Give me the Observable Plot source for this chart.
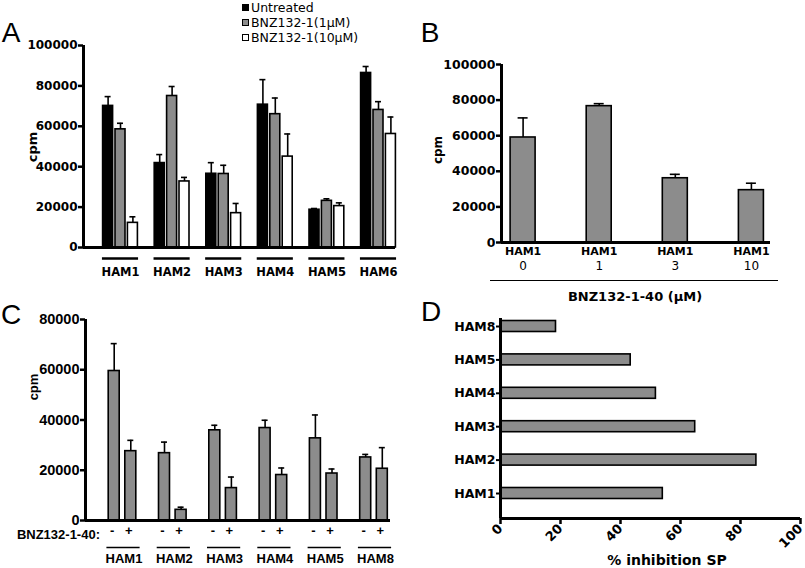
<!DOCTYPE html>
<html><head><meta charset="utf-8">
<script src="https://cdn.jsdelivr.net/npm/d3@7"></script>
<script src="https://cdn.jsdelivr.net/npm/@observablehq/plot@0.6"></script>
<style>
body{margin:0;background:#fff;}
#wrap{position:relative;width:805px;height:568px;overflow:hidden;color:#000;background:#fff;}
#wrap svg{position:absolute;left:0;top:0;}
#wrap svg g[aria-label^="y-axis"] text, #wrap svg g[aria-label^="x-axis"] text{font-weight:bold;}
.t{position:absolute;white-space:nowrap;line-height:1;}
</style></head><body><div id="wrap"></div>
<script>
// ---------- Panel A ----------
const groupsA = ["HAM1","HAM2","HAM3","HAM4","HAM5","HAM6"];
const seriesA = ["Untreated","BNZ132-1(1\u03bcM)","BNZ132-1(10\u03bcM)"];
const untreatedA    = [70100, 41800, 36500, 70700, 18700, 86400];
const untreatedErrA = [4600, 4200, 5500, 12400, 600, 3200];
const bnz1A         = [58500, 75000, 36400, 66000, 23100, 68100];
const bnz1ErrA      = [3000, 4700, 4300, 8000, 1000, 4100];
const bnz10A        = [12200, 32700, 17000, 45000, 20500, 56200];
const bnz10ErrA     = [3000, 2000, 4800, 11200, 1600, 8400];
const ticksA = [0, 20000, 40000, 60000, 80000, 100000];

// ---------- Panel B ----------
const doseLabelB = "HAM1";
const dosesB = ["0", "1", "3", "10"];
const valuesB = [59000, 76600, 36100, 29400];
const errB    = [11000, 1400, 2200, 3900];
const ticksB = [0, 20000, 40000, 60000, 80000, 100000];

// ---------- Panel C ----------
const groupsC = ["HAM1","HAM2","HAM3","HAM4","HAM5","HAM8"];
const treatC = ["-", "+"];
const minusC    = [59500, 26800, 35900, 36800, 32700, 25100];
const minusErrC = [10900, 4400, 2000, 3100, 9300, 1200];
const plusC     = [27600, 4250, 12900, 18100, 18700, 20600];
const plusErrC  = [4300, 1050, 4400, 2800, 1800, 8400];
const ticksC = [0, 20000, 40000, 60000, 80000];

// ---------- Panel D ----------
const namesD = ["HAM1","HAM2","HAM3","HAM4","HAM5","HAM8"];
const inhibD = [54.1, 85.3, 64.9, 51.8, 43.4, 18.5];
const ticksD = [0, 20, 40, 60, 80, 100];

const GRAY = "#8c8c8c";
const FW = '"DejaVu Sans", sans-serif';
const FA = '"Liberation Sans", Arial, sans-serif';
const wrap = document.getElementById("wrap");
const base = {background: "transparent", overflow: "visible", color: "#000"};
function mount(svg) { wrap.appendChild(svg); }
function txt(s, x, y, css, anchor = "c") {
  const d = document.createElement("div");
  d.className = "t";
  d.textContent = s;
  d.style.left = x + "px"; d.style.top = y + "px";
  let tr = anchor === "c" ? "translate(-50%,-50%)" : anchor === "l" ? "translate(0,-50%)" : "translate(-100%,-50%)";
  if (css.rot) tr += " rotate(-90deg)";
  d.style.transform = tr;
  d.style.fontFamily = css.font || FW;
  d.style.fontSize = css.size + "px";
  d.style.fontWeight = css.bold ? "bold" : "normal";
  wrap.appendChild(d);
  return d;
}

// ===== Panel A plot =====
{
  const STEP = 51.6, C0 = 120;
  const OFF = 12.4 / STEP, HW = 5 / STEP, CAP = 3 / STEP;
  const vals = [untreatedA, bnz1A, bnz10A], errs = [untreatedErrA, bnz1ErrA, bnz10ErrA];
  const fills = ["#000", GRAY, "#fff"];
  const rows = vals.flatMap((vs, s) => vs.map((v, g) => ({g, s, v, e: errs[s][g], c: g + (s - 1) * OFF})));
  const xd = [(83 - C0) / STEP, (395 - C0) / STEP];
  mount(Plot.plot({
    width: 805, height: 568, marginLeft: 83, marginRight: 410, marginTop: 45, marginBottom: 321,
    style: {...base, fontFamily: FW},
    x: {domain: xd, axis: null},
    y: {domain: [0, 100000], axis: null},
    marks: [
      Plot.ruleX(rows, {x: "c", y1: "v", y2: d => d.v + d.e, strokeWidth: 1.6}),
      Plot.ruleY(rows, {y: d => d.v + d.e, x1: d => d.c - CAP, x2: d => d.c + CAP, strokeWidth: 1.6}),
      ...fills.map((f, s) => Plot.rectY(rows.filter(d => d.s === s), {x1: d => d.c - HW, x2: d => d.c + HW, y1: 0, y2: "v", fill: f, stroke: "#000", strokeWidth: 1.6})),
      Plot.axisY({ticks: ticksA, tickFormat: d => String(d), tickSize: 5, tickPadding: 1, fontSize: 12, fontWeight: "bold", strokeWidth: 2.5, label: null}),
      Plot.ruleX([xd[0]], {strokeWidth: 3}),
      Plot.ruleY([0], {strokeWidth: 3}),
      Plot.ruleY(groupsA, {y: 0, x1: (d, i) => i - 0.35, x2: (d, i) => i + 0.35, dy: 11, strokeWidth: 2.5}),
      Plot.text(groupsA, {x: (d, i) => i, frameAnchor: "bottom", dy: 28, text: d => d, fontSize: 11.5, fontWeight: "bold"})
    ]
  }));
}

// ===== Panel B plot =====
{
  const STEP = 76.1, C0 = 522.6;
  const HW = 12.5 / STEP, CAP = 5 / STEP;
  const rows = dosesB.map((d, i) => ({d, i, v: valuesB[i], e: errB[i]}));
  const xd = [(501 - C0) / STEP, (770 - C0) / STEP];
  mount(Plot.plot({
    width: 805, height: 568, marginLeft: 501, marginRight: 35, marginTop: 64, marginBottom: 326,
    style: {...base, fontFamily: FW},
    x: {domain: xd, axis: null},
    y: {domain: [0, 100000], axis: null},
    marks: [
      Plot.ruleX(rows, {x: "i", y1: "v", y2: d => d.v + d.e, strokeWidth: 1.6}),
      Plot.ruleY(rows, {y: d => d.v + d.e, x1: d => d.i - CAP, x2: d => d.i + CAP, strokeWidth: 1.6}),
      Plot.rectY(rows, {x1: d => d.i - HW, x2: d => d.i + HW, y1: 0, y2: "v", fill: GRAY, stroke: "#000", strokeWidth: 1.6}),
      Plot.axisY({ticks: ticksB, tickFormat: d => String(d), tickSize: 5, tickPadding: 1, fontSize: 12.5, fontWeight: "bold", strokeWidth: 2.5, label: null}),
      Plot.ruleX([xd[0]], {strokeWidth: 3}),
      Plot.ruleY([0], {strokeWidth: 3}),
      Plot.text(rows, {x: "i", frameAnchor: "bottom", dy: 12, text: () => doseLabelB, fontSize: 11, fontWeight: "bold"}),
      Plot.text(rows, {x: "i", frameAnchor: "bottom", dy: 27, text: "d", fontSize: 12})
    ]
  }));
}

// ===== Panel C plot =====
{
  const STEP = 50.3, C0 = 122;
  const OFF = 8.3 / STEP, HW = 5.5 / STEP, CAP = 3 / STEP;
  const vals = [minusC, plusC], errs = [minusErrC, plusErrC];
  const rows = vals.flatMap((vs, s) => vs.map((v, g) => ({g, s, v, e: errs[s][g], c: g + (s === 0 ? -OFF : OFF)})));
  const xd = [(85 - C0) / STEP, (390 - C0) / STEP];
  mount(Plot.plot({
    width: 805, height: 568, marginLeft: 85, marginRight: 415, marginTop: 319, marginBottom: 48,
    style: {...base, fontFamily: FA},
    x: {domain: xd, axis: null},
    y: {domain: [0, 80000], axis: null},
    marks: [
      Plot.ruleX(rows, {x: "c", y1: "v", y2: d => d.v + d.e, strokeWidth: 1.6}),
      Plot.ruleY(rows, {y: d => d.v + d.e, x1: d => d.c - CAP, x2: d => d.c + CAP, strokeWidth: 1.6}),
      Plot.rectY(rows, {x1: d => d.c - HW, x2: d => d.c + HW, y1: 0, y2: "v", fill: GRAY, stroke: "#000", strokeWidth: 1.6}),
      Plot.axisY({ticks: ticksC, tickFormat: d => String(d), tickSize: 5, tickPadding: 1, fontSize: 14.5, fontWeight: "bold", strokeWidth: 2.5, label: null}),
      Plot.ruleX([xd[0]], {strokeWidth: 3}),
      Plot.ruleY([0], {strokeWidth: 3}),
      Plot.text(rows, {x: "c", frameAnchor: "bottom", dy: 14, dx: -2, text: d => treatC[d.s], fontSize: 13, fontWeight: "bold"}),
      Plot.ruleY(groupsC, {y: 0, x1: (d, i) => i - 0.31, x2: (d, i) => i + 0.35, dy: 27, strokeWidth: 1.5}),
      Plot.text(groupsC, {x: (d, i) => i + 0.03, frameAnchor: "bottom", dy: 42, text: d => d, fontSize: 13, fontWeight: "bold"})
    ]
  }));
}

// ===== Panel D plot =====
{
  const STEP = 33.4, C0 = 493;
  const HW = 5.5 / STEP;
  const rows = namesD.map((n, i) => ({n, i, v: inhibD[i]}));
  const yd = [(C0 - 518) / STEP, (C0 - 318) / STEP];
  mount(Plot.plot({
    width: 805, height: 568, marginLeft: 500, marginRight: 5, marginTop: 318, marginBottom: 50,
    style: {...base, fontFamily: FW},
    x: {domain: [0, 100], axis: null},
    y: {domain: yd, axis: null},
    marks: [
      Plot.rectX(rows, {x1: 0, x2: "v", y1: d => d.i - HW, y2: d => d.i + HW, fill: GRAY, stroke: "#000", strokeWidth: 1.6}),
      Plot.axisY({ticks: d3.range(namesD.length), tickFormat: i => namesD[i], tickSize: 4, tickPadding: 1, fontSize: 12.5, fontWeight: "bold", strokeWidth: 2, label: null}),
      Plot.axisX({ticks: ticksD, tickFormat: d => String(d), tickSize: 6, tickPadding: 2, tickRotate: -45, fontSize: 13, fontWeight: "bold", strokeWidth: 2.5, label: null}),
      Plot.ruleX([0], {strokeWidth: 3}),
      Plot.ruleY([yd[0]], {strokeWidth: 3})
    ]
  }));
}

// ===== HTML text: panel letters, legend, axis titles =====
txt("A", 11, 33, {font: FA, size: 28});
txt("B", 430, 33, {font: FA, size: 28});
txt("C", 11, 315, {font: FA, size: 28});
txt("D", 431, 312, {font: FA, size: 28});

const legendFills = ["#000", GRAY, "#fff"];
seriesA.forEach((s, i) => {
  const y = 7.5 + i * 15;
  const sq = document.createElement("div");
  sq.style.cssText = `position:absolute;left:242px;top:${y - 3.5}px;width:7px;height:7px;box-sizing:border-box;border:1px solid #000;background:${legendFills[i]};`;
  wrap.appendChild(sq);
  txt(s, 251, y, {size: 12.5}, "l");
});

txt("cpm", 32, 147, {size: 13, bold: true, rot: true});
txt("cpm", 438, 150, {size: 12, bold: true, rot: true});
txt("cpm", 33, 387, {font: FA, size: 13, bold: true, rot: true});

const lineB = document.createElement("div");
lineB.style.cssText = "position:absolute;left:490px;top:280px;width:288px;height:0;border-top:1.5px solid #000;";
wrap.appendChild(lineB);
txt("BNZ132-1-40 (\u03bcM)", 635, 296, {size: 13, bold: true});
txt("BNZ132-1-40:", 100, 534, {font: FA, size: 13, bold: true}, "r");
txt("% inhibition SP", 667, 560, {size: 14, bold: true});
</script></body></html>
